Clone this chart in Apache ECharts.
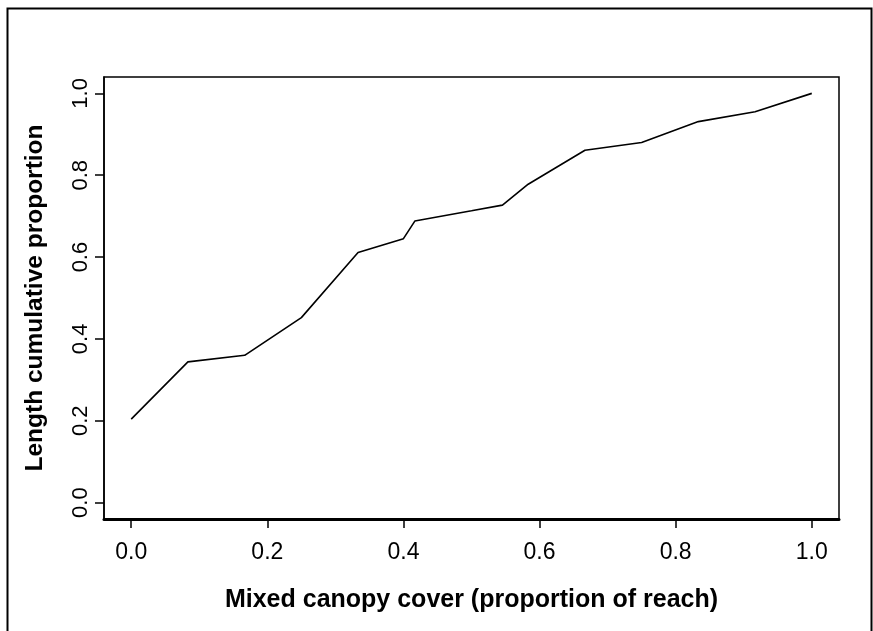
<!DOCTYPE html>
<html>
<head>
<meta charset="utf-8">
<script src="https://cdn.jsdelivr.net/npm/echarts@6/dist/echarts.min.js"></script>
<style>html,body{margin:0;padding:0;background:#fff;}#c{width:873px;height:631px;}</style>
</head>
<body>
<div id="c"></div>
<script>
// Data
var coverX = [0, 0.0833, 0.1667, 0.25, 0.3333, 0.4, 0.4167, 0.5, 0.5455, 0.5833, 0.6667, 0.75, 0.8333, 0.9167, 1.0];
var cumProp = [0.204, 0.344, 0.360, 0.452, 0.611, 0.645, 0.688, 0.713, 0.727, 0.778, 0.861, 0.880, 0.931, 0.955, 1.0];
var xTicks = [0, 0.2, 0.4, 0.6, 0.8, 1.0];
var yTicks = [0, 0.2, 0.4, 0.6, 0.8, 1.0];
var xTitle = 'Mixed canopy cover (proportion of reach)';
var yTitle = 'Length cumulative proportion';

var points = coverX.map(function (x, i) { return [x, cumProp[i]]; });
var chart = echarts.init(document.getElementById('c'), null, {renderer: 'canvas'});
chart.setOption({
  animation: false,
  backgroundColor: '#fff',
  graphic: [{
    type: 'rect', left: 5, top: 6, silent: true,
    shape: {width: 864, height: 640},
    style: {fill: 'none', stroke: '#000', lineWidth: 2}
  }],
  grid: {left: 104, top: 77, right: 34, bottom: 112, show: true, borderColor: '#000', borderWidth: 1.5, backgroundColor: 'transparent'},
  xAxis: {
    type: 'value', min: -0.04, max: 1.04,
    name: xTitle, nameLocation: 'middle', nameGap: 69,
    nameTextStyle: {fontFamily: 'Liberation Sans', fontWeight: 'bold', fontSize: 25, color: '#000'},
    axisLine: {show: true, onZero: false, lineStyle: {color: '#000', width: 3}},
    axisTick: {show: true, length: 9, customValues: xTicks, lineStyle: {color: '#000', width: 1.5}},
    axisLabel: {customValues: xTicks, margin: 22, fontFamily: 'Liberation Sans', fontSize: 23, color: '#000',
      formatter: function (v) { return v.toFixed(1); }},
    splitLine: {show: false}
  },
  yAxis: {
    type: 'value', min: -0.04, max: 1.04,
    name: yTitle, nameLocation: 'middle', nameGap: 56, nameRotate: 90,
    nameTextStyle: {fontFamily: 'Liberation Sans', fontWeight: 'bold', fontSize: 24.5, color: '#000'},
    axisLine: {show: true, onZero: false, lineStyle: {color: '#000', width: 1.5}},
    axisTick: {show: true, length: 9, customValues: yTicks, lineStyle: {color: '#000', width: 1.5}},
    axisLabel: {customValues: yTicks, margin: 12, rotate: 90, fontFamily: 'Liberation Sans', fontSize: 22, color: '#000',
      formatter: function (v) { return v.toFixed(1); }},
    splitLine: {show: false}
  },
  series: [{
    type: 'line', data: points, showSymbol: false, symbol: 'none',
    lineStyle: {color: '#000', width: 1.6}, silent: true
  }]
});
</script>
</body>
</html>
